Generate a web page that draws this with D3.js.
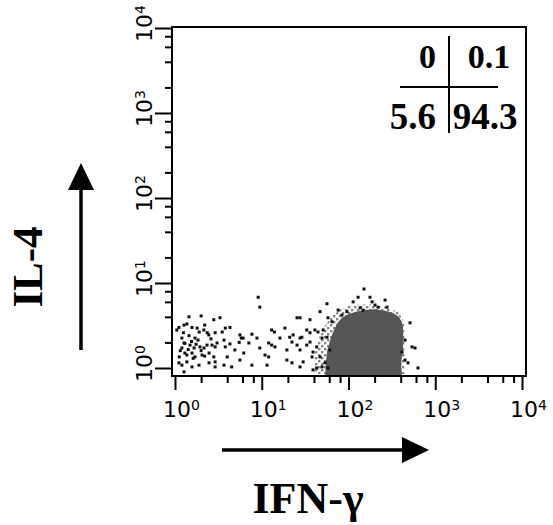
<!DOCTYPE html>
<html>
<head>
<meta charset="utf-8">
<script src="https://cdn.jsdelivr.net/npm/d3@7"></script>
<style>
  body { margin: 0; background: #fff; }
  svg { display: block; }
</style>
</head>
<body>
<svg></svg>
<script>
const width = 553;
const height = 525;

// axis decades and the minor tick multipliers used on the cytometer plot
const decades = [1, 10, 100, 1000, 10000];
const exponents = ["0", "1", "2", "3", "4"];
const minorMults = [2, 4, 6, 8];

// quadrant percentages: [upper-left, upper-right, lower-left, lower-right]
const quadLabels = ["0", "0.1", "5.6", "94.3"];

// scattered events, [IFN-g, IL-4] fluorescence
const events = [
  [9.1, 6.8], [9.5, 5.2], [1.45, 4.0], [2.0, 4.1], [2.8, 3.7], [3.3, 3.9],
  [1.11, 3.0], [1.27, 3.2], [1.37, 3.3], [1.05, 2.8], [1.57, 3.0], [1.8, 2.95],
  [1.9, 2.65], [2.2, 3.2], [2.15, 2.8], [2.45, 2.45], [2.9, 2.6], [3.5, 2.65],
  [3.8, 2.95], [4.3, 3.0], [5.6, 2.45], [6.1, 2.25], [7.7, 2.5], [8.8, 2.25],
  [13, 2.8], [14, 2.65], [18.5, 2.95], [25.5, 3.9], [1.2, 2.25], [1.27, 1.97],
  [1.2, 1.72], [1.3, 1.5], [1.37, 1.42], [1.49, 1.86], [1.66, 1.72], [1.7, 2.25],
  [1.84, 2.13], [1.94, 1.77], [2.16, 1.72], [2.34, 1.86], [2.67, 1.86], [2.9, 1.77],
  [3.05, 1.97], [2.05, 1.42], [2.2, 1.38], [2.47, 1.5], [1.57, 1.5], [1.7, 1.35],
  [2.8, 1.35], [3.67, 2.13], [3.8, 1.77], [4.3, 1.92], [4.9, 1.63], [5.5, 2.0],
  [5.8, 2.25], [6.2, 1.5], [7.1, 1.97], [9.5, 1.72], [12, 1.97], [13, 1.86],
  [14.2, 1.77], [16.2, 2.25], [21, 2.3], [22.3, 2.02], [25.5, 1.86], [27.6, 2.25],
  [19.5, 1.63], [10.9, 1.42], [12, 1.35], [1.11, 1.15], [1.2, 1.08], [1.37, 1.18],
  [1.57, 1.03], [1.27, 0.9], [1.89, 1.08], [2.9, 1.03], [2.9, 1.18], [3.67, 1.08],
  [4.5, 1.03], [5.6, 1.24], [7.7, 1.08], [11.5, 1.08], [19.5, 1.24], [22.3, 1.15],
  [27.6, 1.03], [2.47, 1.15], [4.0, 1.35],
  [1.25, 2.6], [1.45, 2.4], [1.3, 1.95], [1.55, 2.05], [1.15, 1.6], [1.42, 1.65],
  [1.75, 1.9], [2.0, 1.6], [1.62, 1.3], [2.6, 2.2], [1.12, 1.35], [2.35, 2.6],
  [151, 8.5], [129, 6.8], [177, 6.8], [187, 6.0], [56.5, 5.7], [113, 6.0],
  [202, 5.5], [219, 5.2], [264, 6.3], [278, 5.2], [76, 4.8], [84, 4.2],
  [136, 5.1], [147, 4.8], [47, 4.6], [96, 4.6], [512, 3.4], [58, 3.9],
  [64.5, 3.5], [36, 3.7], [27.6, 3.9], [41, 2.8], [44.5, 2.65], [33, 2.8],
  [29, 2.3], [49.5, 2.25], [36, 2.02], [448, 2.13], [540, 1.77], [585, 1.72],
  [414, 1.54], [448, 1.24], [485, 1.15], [30, 1.18], [38, 1.35], [39, 0.95],
  [43, 1.0], [53.6, 1.15], [58, 1.0], [632, 1.0], [27.6, 1.63], [51, 2.8],
  [56.5, 2.3], [61, 1.63], [47, 1.35], [43, 1.77], [33, 1.86], [39, 1.54],
  [49.5, 1.03], [23, 2.45], [36, 2.6]
];

// loosely packed events around the population
const halo = [
  [40, 0.85], [41, 1.5], [45, 2.2], [52, 3.0], [62, 3.9], [78, 4.8],
  [100, 5.4], [140, 5.6], [200, 5.6], [280, 5.2], [380, 4.5], [440, 3.4],
  [450, 2.0], [445, 0.85]
];

// outline of the dense (saturated) population
const denseCore = [
  [54, 0.82], [55, 1.2], [57, 1.6], [60, 1.95], [64, 2.4], [69, 2.9],
  [75, 3.4], [84, 3.9], [99, 4.3], [122, 4.6], [155, 4.8], [202, 4.9],
  [264, 4.7], [330, 4.4], [380, 4.0], [410, 3.5], [425, 3.0], [428, 2.3],
  [425, 1.7], [410, 1.3], [405, 1.05], [414, 0.82]
];

const svg = d3.select("svg").attr("width", width).attr("height", height);

const box = { left: 172, right: 526, top: 27, bottom: 376 };

const x = d3.scaleLog().domain([1, 1e4]).range([175, 522]);
const y = d3.scaleLog().domain([1, 1e4]).range([368, 28]);

const minorVals = [];
decades.slice(0, -1).forEach((d) => {
  minorMults.forEach((m) => minorVals.push(d * m));
});

// stipple pattern for the loosely packed zone
const pat = svg
  .append("defs")
  .append("pattern")
  .attr("id", "stip")
  .attr("patternUnits", "userSpaceOnUse")
  .attr("width", 6)
  .attr("height", 6);
pat.append("rect").attr("x", 0).attr("y", 0).attr("width", 2.4).attr("height", 2.4).attr("fill", "#222");
pat.append("rect").attr("x", 3).attr("y", 3).attr("width", 2.4).attr("height", 2.4).attr("fill", "#222");

const line = d3.line().x((d) => x(d[0])).y((d) => y(d[1])).curve(d3.curveLinearClosed);

svg.append("path").datum(halo).attr("d", line).attr("fill", "url(#stip)").attr("opacity", 0.55);

// dense population
svg.append("path").datum(denseCore).attr("d", line).attr("fill", "#555");

// scattered events
svg
  .selectAll("rect.ev")
  .data(events)
  .enter()
  .append("rect")
  .attr("class", "ev")
  .attr("x", (d) => x(d[0]) - 1.5)
  .attr("y", (d) => y(d[1]) - 1.5)
  .attr("width", 3)
  .attr("height", 3)
  .attr("fill", "#111");

// frame
svg
  .append("rect")
  .attr("x", box.left)
  .attr("y", box.top)
  .attr("width", box.right - box.left)
  .attr("height", box.bottom - box.top)
  .attr("fill", "none")
  .attr("stroke", "#000")
  .attr("stroke-width", 2);

// x axis ticks
const xMajor = d3.axisBottom(x).tickValues(decades).tickSize(14).tickSizeOuter(0).tickFormat("");
const xMinor = d3.axisBottom(x).tickValues(minorVals).tickSize(7).tickSizeOuter(0).tickFormat("");
[xMajor, xMinor].forEach((ax) => {
  const g = svg.append("g").attr("transform", "translate(0," + box.bottom + ")").call(ax);
  g.select(".domain").remove();
  g.selectAll("line").attr("stroke", "#000").attr("stroke-width", 2);
});

// y axis ticks
const yMajor = d3.axisLeft(y).tickValues(decades).tickSize(17).tickSizeOuter(0).tickFormat("");
const yMinor = d3.axisLeft(y).tickValues(minorVals).tickSize(7).tickSizeOuter(0).tickFormat("");
[yMajor, yMinor].forEach((ax) => {
  const g = svg.append("g").attr("transform", "translate(" + box.left + ",0)").call(ax);
  g.select(".domain").remove();
  g.selectAll("line").attr("stroke", "#000").attr("stroke-width", 2);
});

// x tick labels 10^n
const xLab = svg
  .selectAll("text.xl")
  .data(decades)
  .enter()
  .append("text")
  .attr("class", "xl")
  .attr("x", (d) => x(d) - 12)
  .attr("y", 417)
  .attr("font-family", "DejaVu Sans")
  .attr("font-size", 22);
xLab.append("tspan").text("10");
xLab
  .append("tspan")
  .attr("dy", -7)
  .attr("font-size", 14)
  .text((d, i) => exponents[i]);

// y tick labels, rotated
const yLab = svg
  .selectAll("text.yl")
  .data(decades)
  .enter()
  .append("text")
  .attr("class", "yl")
  .attr("transform", (d) => "translate(152," + (y(d) + 14) + ") rotate(-90)")
  .attr("font-family", "DejaVu Sans")
  .attr("font-size", 22);
yLab.append("tspan").text("10");
yLab
  .append("tspan")
  .attr("dy", -7)
  .attr("font-size", 14)
  .text((d, i) => exponents[i]);

// quadrant statistics
const q = svg.append("g").attr("font-family", "Liberation Serif").attr("font-weight", "bold");
q.append("line").attr("x1", 449).attr("x2", 449).attr("y1", 36).attr("y2", 133)
  .attr("stroke", "#000").attr("stroke-width", 2);
q.append("line").attr("x1", 400).attr("x2", 498).attr("y1", 87).attr("y2", 87)
  .attr("stroke", "#000").attr("stroke-width", 2);
q.append("text").attr("x", 436).attr("y", 68).attr("text-anchor", "end").attr("font-size", 34).text(quadLabels[0]);
q.append("text").attr("x", 489).attr("y", 68).attr("text-anchor", "middle").attr("font-size", 34).text(quadLabels[1]);
q.append("text").attr("x", 436).attr("y", 129).attr("text-anchor", "end").attr("font-size", 37).text(quadLabels[2]);
q.append("text").attr("x", 485).attr("y", 129).attr("text-anchor", "middle").attr("font-size", 37).text(quadLabels[3]);

// axis titles with arrows
svg.append("text")
  .attr("transform", "translate(42,267) rotate(-90)")
  .attr("text-anchor", "middle")
  .attr("font-family", "Liberation Serif")
  .attr("font-weight", "bold")
  .attr("font-size", 43)
  .text("IL-4");

svg.append("text")
  .attr("x", 308)
  .attr("y", 513)
  .attr("text-anchor", "middle")
  .attr("font-family", "Liberation Serif")
  .attr("font-weight", "bold")
  .attr("font-size", 44)
  .text("IFN-\u03b3");

// arrows
svg.append("line").attr("x1", 81).attr("x2", 81).attr("y1", 350).attr("y2", 185)
  .attr("stroke", "#000").attr("stroke-width", 3.5);
svg.append("path").attr("d", "M81,163 L68,190 L94,190 Z").attr("fill", "#000");

svg.append("line").attr("x1", 222).attr("x2", 405).attr("y1", 450).attr("y2", 450)
  .attr("stroke", "#000").attr("stroke-width", 3.5);
svg.append("path").attr("d", "M429,450 L402,437 L402,463 Z").attr("fill", "#000");
</script>
</body>
</html>
